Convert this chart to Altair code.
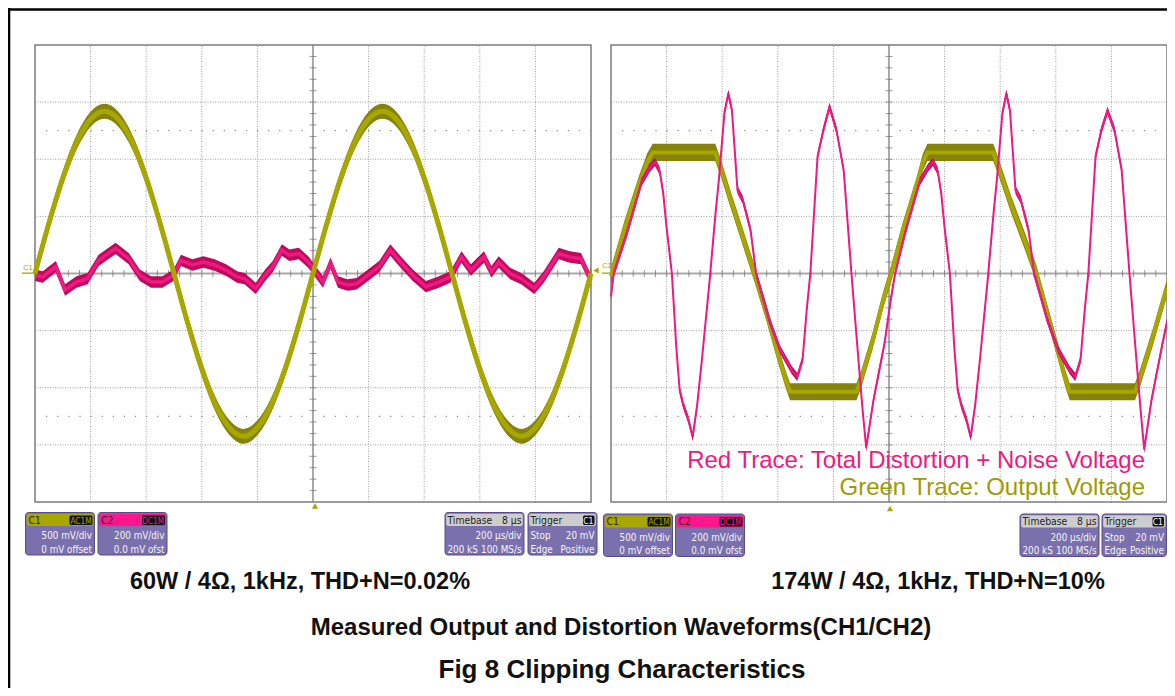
import altair as alt
import pandas as pd

# ---------------- data read from the two scope captures ----------------
# time in microseconds (200 us/div, 10 div), level in screen divisions (8 div)

# left capture (60 W): CH1 output voltage (green)
L_GREEN_T = [-1000, -950, -900, -850, -800, -750, -700, -650, -600, -550,
             -500, -450, -400, -350, -300, -250, -200, -150, -100, -50,
             0, 50, 100, 150, 200, 250, 300, 350, 400, 450,
             500, 550, 600, 650, 700, 750, 800, 850, 900, 950, 1000]
L_GREEN_V = [0.00, 0.88, 1.67, 2.30, 2.70, 2.84, 2.70, 2.30, 1.67, 0.88,
             0.00, -0.88, -1.67, -2.30, -2.70, -2.85, -2.70, -2.30, -1.67, -0.88,
             0.00, 0.88, 1.67, 2.30, 2.70, 2.84, 2.70, 2.30, 1.67, 0.88,
             0.00, -0.88, -1.67, -2.30, -2.70, -2.85, -2.70, -2.30, -1.67, -0.88, 0.00]

# left capture: CH2 distortion residual (red)
L_RED_T = [-1000, -972, -925, -892, -851, -811, -771, -710, -663, -623,
           -582, -542, -502, -475, -434, -394, -354, -313, -273, -246,
           -206, -172, -145, -112, -85, -51, -17, 9, 36, 63,
           90, 124, 157, 198, 238, 278, 319, 359, 406, 453,
           494, 534, 568, 615, 642, 668, 709, 749, 796, 830,
           884, 924, 964, 1000]
L_RED_V = [-0.03, -0.06, 0.12, -0.29, -0.15, -0.09, 0.23, 0.44, 0.26, -0.03,
           -0.15, -0.15, -0.03, 0.23, 0.15, 0.20, 0.15, 0.06, -0.06, -0.09,
           -0.26, -0.03, 0.12, 0.41, 0.32, 0.35, 0.20, 0.03, -0.15, 0.18,
           -0.15, -0.20, -0.18, -0.03, 0.12, 0.41, 0.18, -0.03, -0.23, -0.15,
           -0.06, 0.29, 0.06, 0.29, 0.03, 0.20, 0.00, -0.09, -0.26, -0.06,
           0.35, 0.29, 0.26, -0.12]

# right capture (174 W, clipping): CH1 output voltage (green)
R_GREEN_T = [-1000, -950, -900, -870, -850, -625, -605, -570, -530, -484,
             -440, -400, -372, -356, -117, -100, -60, -20, 8, 50,
             100, 122, 138, 375, 395, 440, 490, 530, 570, 610,
             635, 650, 885, 905, 950, 1000]
R_GREEN_V = [-0.05, 0.80, 1.55, 1.95, 2.12, 2.12, 1.85, 1.30, 0.70, 0.00,
             -0.70, -1.40, -1.85, -2.07, -2.07, -1.85, -1.20, -0.45, 0.00, 0.75,
             1.55, 1.95, 2.12, 2.12, 1.85, 1.20, 0.55, 0.00, -0.70, -1.40,
             -1.85, -2.07, -2.07, -1.80, -1.10, -0.25]

# right capture: CH2 distortion residual (red)
R_RED_T = [-1000, -990, -940, -890, -860, -842, -825, -812, -800, -781,
           -765, -753, -740, -722, -706, -690, -673, -645, -625, -612,
           -592, -578, -565, -545, -526, -498, -478, -431, -391, -350,
           -330, -311, -296, -283, -257, -236, -214, -189, -163, -135,
           -110, -95, -82, -56, -16, 5, 22, 60, 110, 140,
           158, 175, 188, 200, 219, 235, 247, 260, 278, 294,
           310, 327, 355, 375, 388, 408, 422, 435, 455, 474,
           502, 522, 569, 609, 650, 670, 689, 704, 717, 743,
           764, 786, 811, 837, 865, 890, 905, 918, 944, 984, 1000]
R_RED_V = [-0.40, 0.00, 0.75, 1.60, 1.85, 1.95, 1.80, 1.40, 0.80, 0.00,
           -1.30, -2.04, -2.30, -2.55, -2.86, -2.30, -1.51, -0.11, 1.00, 1.64,
           2.81, 3.15, 2.86, 1.46, 1.29, 0.76, 0.00, -0.81, -1.34, -1.69,
           -1.81, -1.51, -0.64, 0.00, 2.05, 2.51, 2.92, 2.51, 1.81, 0.00,
           -1.51, -2.39, -3.05, -2.22, -1.22, -0.50, 0.00, 0.75, 1.60, 1.85,
           1.95, 1.80, 1.40, 0.80, 0.00, -1.30, -2.04, -2.30, -2.55, -2.86,
           -2.30, -1.51, -0.11, 1.00, 1.64, 2.81, 3.15, 2.86, 1.46, 1.29,
           0.76, 0.00, -0.81, -1.34, -1.69, -1.81, -1.51, -0.64, 0.00, 2.05,
           2.51, 2.85, 2.51, 1.81, 0.00, -1.51, -2.39, -3.08, -2.22, -1.22, -0.85]

# graticule
GRID_T = [-800, -600, -400, -200, 200, 400, 600, 800]
GRID_V = [-3, -2, -1, 1, 2, 3]
LEVEL_V = [-2.5, 2.5]
TICK_T = [t for t in range(-960, 961, 40) if t != 0]
TICK_V = [round(k * 0.2, 1) for k in range(-19, 20) if k != 0]

# texts
CAP_LEFT = "60W / 4\u03a9, 1kHz, THD+N=0.02%"
CAP_RIGHT = "174W / 4\u03a9, 1kHz, THD+N=10%"
CAP_MID = "Measured Output and Distortion Waveforms(CH1/CH2)"
CAP_FIG = "Fig 8 Clipping Characteristics"
LEG_RED = "Red Trace: Total Distortion + Noise Voltage"
LEG_GREEN = "Green Trace: Output Voltage"

# ---------------- styles ----------------
OLIVE = "#a8a600"
OLIVE_DARK = "#85830a"
PINK = "#ee1a80"
PINK_DARK = "#c0085f"
PURPLE = "#7b70ae"
PURPLE_EDGE = "#564c8a"
HEAD_GRAY = "#cdcdcd"
NARROW = "DejaVu Sans Condensed, Liberation Sans, Arial, sans-serif"
SANS = "Liberation Sans, Arial, Helvetica, sans-serif"
BOX_FS = 9.8

XL = alt.Scale(domain=[-1000, 1000], range=[27, 583], nice=False, zero=False)
XR = alt.Scale(domain=[-1000, 1000], range=[603, 1159], nice=False, zero=False)
YS = alt.Scale(domain=[-4, 4], range=[494, 37], nice=False, zero=False)
ONE = pd.DataFrame({"k": [0]})


def xq(f, xs):
    return alt.X(f, type="quantitative", scale=xs, axis=None)


def yq(f):
    return alt.Y(f, type="quantitative", scale=YS, axis=None)


def graticule(xs):
    L = []
    L.append(alt.Chart(pd.DataFrame({"t": GRID_T})).transform_calculate(a="-4", b="4")
             .mark_rule(color="#a2a2a2", strokeWidth=1, strokeDash=[1, 1.5])
             .encode(x=xq("t", xs), y=yq("a"), y2=alt.Y2("b")))
    L.append(alt.Chart(pd.DataFrame({"v": GRID_V})).transform_calculate(t0="-1000", t1="1000")
             .mark_rule(color="#a2a2a2", strokeWidth=1, strokeDash=[1, 1.5])
             .encode(x=xq("t0", xs), x2=alt.X2("t1"), y=yq("v")))
    L.append(alt.Chart(pd.DataFrame({"v": LEVEL_V})).transform_calculate(t0="-960", t1="1000")
             .mark_rule(color="#8a8a8a", strokeWidth=1.2, strokeDash=[1.2, 9.9])
             .encode(x=xq("t0", xs), x2=alt.X2("t1"), y=yq("v")))
    L.append(alt.Chart(ONE).transform_calculate(t="0", a="-4", b="4")
             .mark_rule(color="#a9a9a9", strokeWidth=2)
             .encode(x=xq("t", xs), y=yq("a"), y2=alt.Y2("b")))
    L.append(alt.Chart(ONE).transform_calculate(v="0", t0="-1000", t1="1000")
             .mark_rule(color="#a9a9a9", strokeWidth=2)
             .encode(x=xq("t0", xs), x2=alt.X2("t1"), y=yq("v")))
    L.append(alt.Chart(pd.DataFrame({"v": TICK_V})).transform_calculate(t="0")
             .mark_tick(orient="horizontal", size=7, thickness=1, color="#6e6e6e")
             .encode(x=xq("t", xs), y=yq("v")))
    L.append(alt.Chart(pd.DataFrame({"t": TICK_T})).transform_calculate(v="0")
             .mark_tick(orient="vertical", size=7, thickness=1, color="#6e6e6e")
             .encode(x=xq("t", xs), y=yq("v")))
    L.append(alt.Chart(ONE).transform_calculate(t0="-1000", t1="1000", a="-4", b="4")
             .mark_rect(fillOpacity=0, stroke="#7c7c7c", strokeWidth=1.5)
             .encode(x=xq("t0", xs), x2=alt.X2("t1"), y=yq("a"), y2=alt.Y2("b")))
    return L


def trace(t, v, xs, band, color, band_color, width, interp):
    df = pd.DataFrame({"t": t, "v": v})
    area = (alt.Chart(df)
            .transform_calculate(lo=f"datum.v - {band}", hi=f"datum.v + {band}")
            .mark_area(color=band_color, interpolate=interp)
            .encode(x=xq("t", xs), y=yq("lo"), y2=alt.Y2("hi")))
    line = (alt.Chart(df)
            .mark_line(color=color, strokeWidth=width, interpolate=interp)
            .encode(x=xq("t", xs), y=yq("v")))
    return [area, line]


def rect(x0, y0, x1, y1, fill, stroke=None, r=0, sw=1):
    kw = dict(fill=fill)
    if stroke:
        kw.update(stroke=stroke, strokeWidth=sw)
    if r:
        kw["cornerRadius"] = r
    return alt.Chart(ONE).mark_rect(**kw).encode(
        x=alt.value(x0 - 8), x2=alt.value(x1 - 8), y=alt.value(y0 - 8), y2=alt.value(y1 - 8))


def txt(x, y, s, size, color, align="left", weight="normal", font=NARROW):
    return alt.Chart(ONE).mark_text(text=s, fontSize=size, color=color, align=align,
                                    baseline="alphabetic", font=font, fontWeight=weight
                                    ).encode(x=alt.value(x - 8), y=alt.value(y - 8))


def marker(x, y, shape, size=40, color=OLIVE):
    return alt.Chart(ONE).mark_point(shape=shape, filled=True, size=size, color=color,
                                     opacity=1).encode(x=alt.value(x - 8), y=alt.value(y - 8))


def chan_box(x0, y0, head, name, badge, l1, l2):
    x1, y1 = x0 + 69, y0 + 42.5
    return [
        rect(x0, y0, x1, y1, PURPLE, stroke=PURPLE_EDGE, r=3),
        rect(x0 + 1.2, y0 + 1.2, x1 - 1.2, y0 + 13.5, head, r=2),
        rect(x1 - 25, y0 + 3, x1 - 2, y0 + 12.5, "#111111", r=1.5),
        txt(x0 + 3, y0 + 11, name, BOX_FS + 0.5, "#2b2b10"),
        txt(x1 - 3, y0 + 11, badge, 8.2, head, align="right"),
        txt(x1 - 2.5, y0 + 26.5, l1, BOX_FS, "#f6f6f6", align="right"),
        txt(x1 - 2.5, y0 + 40, l2, BOX_FS, "#f6f6f6", align="right"),
    ]


def time_box(x0, y0):
    x1, y1 = x0 + 79, y0 + 42.5
    return [
        rect(x0, y0, x1, y1, PURPLE, stroke=PURPLE_EDGE, r=3),
        rect(x0 + 1.2, y0 + 1.2, x1 - 1.2, y0 + 13.5, HEAD_GRAY, r=2),
        txt(x0 + 2.5, y0 + 11, "Timebase", BOX_FS + 0.5, "#222222"),
        txt(x1 - 2.5, y0 + 11, "8 \u00b5s", BOX_FS + 0.5, "#222222", align="right"),
        txt(x1 - 2.5, y0 + 26.5, "200 \u00b5s/div", BOX_FS, "#f6f6f6", align="right"),
        txt(x0 + 2.5, y0 + 40, "200 kS", BOX_FS, "#f6f6f6"),
        txt(x1 - 2.5, y0 + 40, "100 MS/s", BOX_FS, "#f6f6f6", align="right"),
    ]


def trig_box(x0, y0, w=69):
    x1, y1 = x0 + w, y0 + 42.5
    return [
        rect(x0, y0, x1, y1, PURPLE, stroke=PURPLE_EDGE, r=3),
        rect(x0 + 1.2, y0 + 1.2, x1 - 1.2, y0 + 13.5, HEAD_GRAY, r=2),
        rect(x1 - 14, y0 + 3, x1 - 2.5, y0 + 12.5, "#111111", r=1.5),
        txt(x0 + 2.5, y0 + 11, "Trigger", BOX_FS + 0.5, "#222222"),
        txt(x1 - 3.5, y0 + 11, "C1", 8.5, "#ffffff", align="right"),
        txt(x0 + 2.5, y0 + 26.5, "Stop", BOX_FS, "#f6f6f6"),
        txt(x1 - 2.5, y0 + 26.5, "20 mV", BOX_FS, "#f6f6f6", align="right"),
        txt(x0 + 2.5, y0 + 40, "Edge", BOX_FS, "#f6f6f6"),
        txt(x1 - 2.5, y0 + 40, "Positive", BOX_FS, "#f6f6f6", align="right"),
    ]


layers = []
# outer page border (top and left edges visible)
layers.append(alt.Chart(ONE).mark_rule(color="black", strokeWidth=2.6).encode(
    x=alt.value(0), x2=alt.value(1180), y=alt.value(1.5)))
layers.append(alt.Chart(ONE).mark_rule(color="black", strokeWidth=2.6).encode(
    x=alt.value(1.0), y=alt.value(0), y2=alt.value(700)))

# left scope
layers += graticule(XL)
layers += trace(L_RED_T, L_RED_V, XL, 0.1, PINK, PINK_DARK, 3.5, "linear")
layers += trace(L_GREEN_T, L_GREEN_V, XL, 0.13, OLIVE, OLIVE_DARK, 5, "monotone")
# right scope
layers += graticule(XR)
layers += trace(R_GREEN_T, R_GREEN_V, XR, 0.15, OLIVE, OLIVE_DARK, 4, "linear")
layers += trace(R_RED_T, R_RED_V, XR, 0.07, PINK, PINK_DARK, 2, "linear")

# channel / trigger markers
layers += [
    txt(28, 270, "C1", 7.5, OLIVE, align="center", font=SANS),
    rect(22, 272.5, 34, 273.8, OLIVE),
    marker(596, 270.5, "triangle-left", 38),
    txt(607, 268, "C1", 7.5, OLIVE, align="center", font=SANS),
    rect(602, 272.5, 613, 273.8, OLIVE),
    marker(315, 506, "triangle-up", 38),
    marker(890, 508.5, "triangle-up", 38),
]

# legend text inside the right scope
layers += [
    txt(1145, 468, LEG_RED, 24, PINK, align="right", font=SANS),
    txt(1145, 495, LEG_GREEN, 24, "#9d9b00", align="right", font=SANS),
]

# scope info boxes
layers += chan_box(25.5, 512.5, OLIVE, "C1", "AC1M", "500 mV/div", "0 mV offset")
layers += chan_box(98, 512.5, "#ff168c", "C2", "DC1M", "200 mV/div", "0.0 mV ofst")
layers += time_box(445, 512.5)
layers += trig_box(528, 512.5)
layers += chan_box(603.5, 514, OLIVE, "C1", "AC1M", "500 mV/div", "0 mV offset")
layers += chan_box(675.5, 514, "#ff168c", "C2", "DC1M", "200 mV/div", "0.0 mV ofst")
layers += time_box(1020, 514)
layers += trig_box(1102, 514, w=64.5)

# captions
layers += [
    txt(300, 589, CAP_LEFT, 23.5, "#111111", align="center", weight="bold", font=SANS),
    txt(938, 589, CAP_RIGHT, 23.5, "#111111", align="center", weight="bold", font=SANS),
    txt(621, 635, CAP_MID, 24, "#111111", align="center", weight="bold", font=SANS),
    txt(622, 678, CAP_FIG, 26, "#111111", align="center", weight="bold", font=SANS),
]

chart = (alt.layer(*layers)
         .resolve_scale(x="independent", y="independent")
         .properties(width=1159, height=680, padding=0,
                     autosize=alt.AutoSizeParams(type="none"),
                     background="white")
         .configure_view(stroke=None))

chart.save("out.html", embed_options={"renderer": "svg", "actions": False})
